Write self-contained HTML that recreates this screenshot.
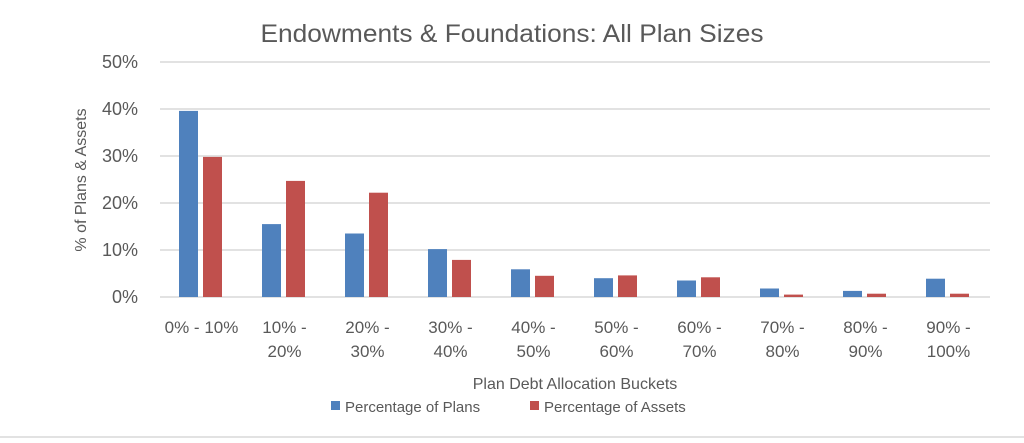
<!DOCTYPE html>
<html><head><meta charset="utf-8"><style>
html,body{margin:0;padding:0;background:#fff;}
svg text{font-family:"Liberation Sans",sans-serif;fill:#595959;}
</style></head><body>
<svg width="1024" height="438" xmlns="http://www.w3.org/2000/svg">
<rect width="1024" height="438" fill="#fff"/>
<line x1="0" y1="437" x2="1024" y2="437" stroke="#d9d9d9" stroke-width="1.5"/>
<text x="512" y="42" font-size="25" text-anchor="middle" textLength="503" lengthAdjust="spacingAndGlyphs">Endowments &amp; Foundations: All Plan Sizes</text>
<g stroke="#d9d9d9" stroke-width="1.5">
<line x1="160" y1="62" x2="990" y2="62"/>
<line x1="160" y1="109" x2="990" y2="109"/>
<line x1="160" y1="156" x2="990" y2="156"/>
<line x1="160" y1="203" x2="990" y2="203"/>
<line x1="160" y1="250" x2="990" y2="250"/>
<line x1="160" y1="297" x2="990" y2="297"/>
</g>
<g font-size="18" text-anchor="end">
<text x="138" y="68">50%</text>
<text x="138" y="115">40%</text>
<text x="138" y="162">30%</text>
<text x="138" y="209">20%</text>
<text x="138" y="256">10%</text>
<text x="138" y="303">0%</text>
</g>
<text transform="translate(86,180) rotate(-90)" font-size="16" text-anchor="middle">% of Plans &amp; Assets</text>
<g fill="#4f81bd">
<rect x="179" y="110.9" width="19" height="186.1"/>
<rect x="262" y="224.1" width="19" height="72.9"/>
<rect x="345" y="233.5" width="19" height="63.5"/>
<rect x="428" y="249.1" width="19" height="47.9"/>
<rect x="511" y="269.3" width="19" height="27.7"/>
<rect x="594" y="278.2" width="19" height="18.8"/>
<rect x="677" y="280.5" width="19" height="16.5"/>
<rect x="760" y="288.5" width="19" height="8.5"/>
<rect x="843" y="290.9" width="19" height="6.1"/>
<rect x="926" y="278.7" width="19" height="18.3"/>
</g>
<g fill="#c0504d">
<rect x="203" y="156.9" width="19" height="140.1"/>
<rect x="286" y="180.9" width="19" height="116.1"/>
<rect x="369" y="192.7" width="19" height="104.3"/>
<rect x="452" y="259.9" width="19" height="37.1"/>
<rect x="535" y="275.8" width="19" height="21.2"/>
<rect x="618" y="275.4" width="19" height="21.6"/>
<rect x="701" y="277.3" width="19" height="19.7"/>
<rect x="784" y="294.6" width="19" height="2.4"/>
<rect x="867" y="293.7" width="19" height="3.3"/>
<rect x="950" y="293.7" width="19" height="3.3"/>
</g>
<g font-size="17" text-anchor="middle">
<text x="201.5" y="333">0% - 10%</text>
<text x="284.5" y="333">10% -</text><text x="284.5" y="357">20%</text>
<text x="367.5" y="333">20% -</text><text x="367.5" y="357">30%</text>
<text x="450.5" y="333">30% -</text><text x="450.5" y="357">40%</text>
<text x="533.5" y="333">40% -</text><text x="533.5" y="357">50%</text>
<text x="616.5" y="333">50% -</text><text x="616.5" y="357">60%</text>
<text x="699.5" y="333">60% -</text><text x="699.5" y="357">70%</text>
<text x="782.5" y="333">70% -</text><text x="782.5" y="357">80%</text>
<text x="865.5" y="333">80% -</text><text x="865.5" y="357">90%</text>
<text x="948.5" y="333">90% -</text><text x="948.5" y="357">100%</text>
</g>
<text x="575" y="389" font-size="16" text-anchor="middle">Plan Debt Allocation Buckets</text>
<rect x="331" y="401" width="9" height="9" fill="#4f81bd"/>
<text x="345" y="412" font-size="15">Percentage of Plans</text>
<rect x="530" y="401" width="9" height="9" fill="#c0504d"/>
<text x="544" y="412" font-size="15">Percentage of Assets</text>
</svg>
</body></html>
